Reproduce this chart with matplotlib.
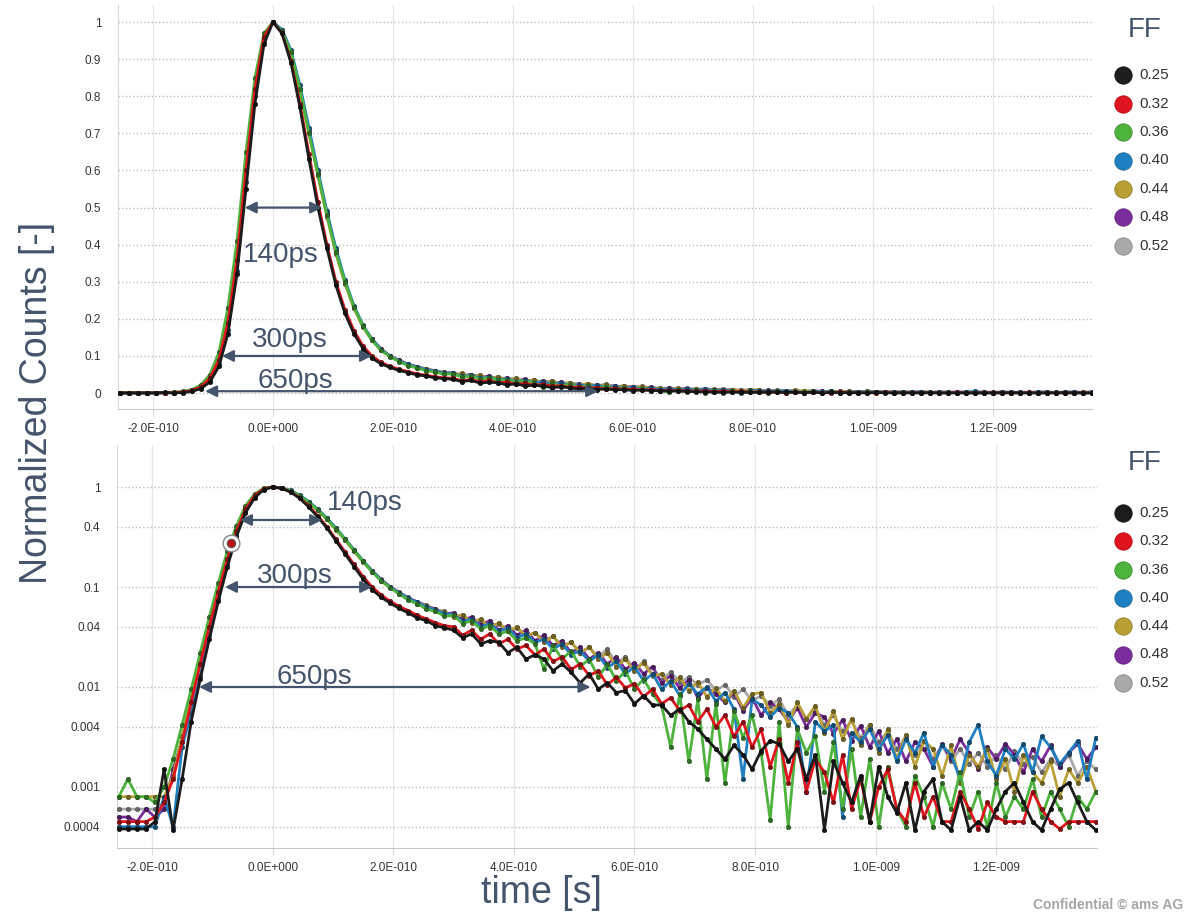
import numpy as np
import matplotlib
matplotlib.use("Agg")
import matplotlib.pyplot as plt
from matplotlib.lines import Line2D
from matplotlib.ticker import FixedLocator, FuncFormatter, NullLocator

plt.rcParams['font.family'] = ['Liberation Sans', 'DejaVu Sans']

# time bins in ps (15 ps steps, -255 ... 1365)
time_ps = np.arange(-255, 1366, 15)

ff_labels = ['0.25', '0.32', '0.36', '0.40', '0.44', '0.48', '0.52']
ff_colors = ['#1c1c1c', '#e0141e', '#4db33d', '#1f7fc0', '#b8a037', '#7b2d9b', '#a9a9a9']

# normalized counts, one list per fill factor
counts_025 = [
    0.00038, 0.00038, 0.00038, 0.00038, 0.00045, 0.0015, 0.00037, 0.0012, 0.0045, 0.012,
    0.03, 0.072, 0.16, 0.32, 0.55, 0.78, 0.94, 1.0, 0.97, 0.89,
    0.77, 0.63, 0.50, 0.39, 0.29, 0.215, 0.16, 0.12, 0.094, 0.079,
    0.069, 0.061, 0.055, 0.049, 0.046, 0.041, 0.039, 0.037, 0.031, 0.034,
    0.027, 0.029, 0.028, 0.022, 0.025, 0.019, 0.021, 0.019, 0.0145, 0.017,
    0.014, 0.011, 0.0135, 0.0095, 0.011, 0.0088, 0.0092, 0.0068, 0.0082, 0.0066,
    0.0066, 0.0052, 0.0060, 0.0045, 0.0038, 0.0030, 0.0024, 0.0019, 0.0026, 0.0021,
    0.0015, 0.0023, 0.0029, 0.0027, 0.0018, 0.0024, 0.0012, 0.0021, 0.00037, 0.0018,
    0.0011, 0.0007, 0.0013, 0.00045, 0.0016, 0.0008, 0.00055, 0.0011, 0.00037, 0.0009,
    0.0012, 0.00045, 0.00037, 0.0008, 0.00037, 0.00045, 0.00037, 0.0006, 0.0009, 0.0011,
    0.0007, 0.00045, 0.00037, 0.0006, 0.00095, 0.0011, 0.0007, 0.00045, 0.00037]
counts_032 = [
    0.00045, 0.00045, 0.00045, 0.00045, 0.0005, 0.0007, 0.0012, 0.0028, 0.007, 0.017,
    0.04, 0.09, 0.19, 0.36, 0.60, 0.82, 0.96, 1.0, 0.97, 0.895,
    0.78, 0.645, 0.515, 0.40, 0.30, 0.225, 0.168, 0.127, 0.10, 0.083,
    0.072, 0.064, 0.058, 0.052, 0.048, 0.044, 0.041, 0.040, 0.033, 0.037,
    0.030, 0.034, 0.027, 0.030, 0.024, 0.026, 0.021, 0.024, 0.018, 0.020,
    0.015, 0.017, 0.013, 0.0145, 0.0105, 0.0125, 0.0098, 0.0108, 0.0080, 0.0095,
    0.0068, 0.0078, 0.0058, 0.0066, 0.0045, 0.0060, 0.0040, 0.0052, 0.0032, 0.0045,
    0.0025, 0.0038, 0.0016, 0.0030, 0.0011, 0.0028, 0.0009, 0.0019, 0.0014, 0.0007,
    0.0021, 0.0006, 0.0012, 0.00045, 0.0010, 0.0015, 0.0006, 0.00045, 0.0011, 0.0005,
    0.0008, 0.00045, 0.00045, 0.0009, 0.0006, 0.00038, 0.0007, 0.0005, 0.00045, 0.00045,
    0.00045, 0.0009, 0.0006, 0.00045, 0.00038, 0.00045, 0.00045, 0.00045, 0.00045]
counts_036 = [
    0.0008, 0.0012, 0.0008, 0.0008, 0.0007, 0.001, 0.0019, 0.0042, 0.0095, 0.022,
    0.05, 0.11, 0.23, 0.41, 0.65, 0.85, 0.97, 1.0, 0.975, 0.92,
    0.82, 0.70, 0.59, 0.48, 0.38, 0.30, 0.232, 0.18, 0.142, 0.115,
    0.098, 0.085, 0.074, 0.068, 0.060, 0.057, 0.051, 0.052, 0.043, 0.046,
    0.038, 0.041, 0.034, 0.036, 0.029, 0.031, 0.027, 0.015, 0.026, 0.019,
    0.023, 0.016, 0.019, 0.0125, 0.017, 0.0115, 0.0145, 0.0095, 0.012, 0.0085,
    0.0065, 0.0025, 0.0085, 0.0018, 0.0075, 0.0012, 0.0068, 0.0011, 0.0058, 0.0031,
    0.0052, 0.0022, 0.00047, 0.0045, 0.0004, 0.0038, 0.0022, 0.0032, 0.0009, 0.0028,
    0.0006, 0.0024, 0.0005, 0.0019, 0.0004, 0.0016, 0.0006, 0.0004, 0.0013, 0.0008,
    0.0004, 0.0011, 0.0006, 0.0014, 0.0005, 0.0009, 0.0004, 0.0011, 0.0005, 0.0008,
    0.0006, 0.0012, 0.0005, 0.0009, 0.0006, 0.0004, 0.0008, 0.0006, 0.0009]
counts_040 = [
    0.0004, 0.0004, 0.0004, 0.0004, 0.0004, 0.0008, 0.0004, 0.0025, 0.0055, 0.013,
    0.033, 0.078, 0.17, 0.33, 0.57, 0.80, 0.95, 1.0, 0.98, 0.925,
    0.83, 0.715, 0.60, 0.49, 0.39, 0.305, 0.236, 0.183, 0.145, 0.117,
    0.099, 0.087, 0.077, 0.070, 0.063, 0.059, 0.054, 0.053, 0.045, 0.048,
    0.040, 0.043, 0.036, 0.039, 0.031, 0.034, 0.028, 0.030, 0.024, 0.027,
    0.021, 0.023, 0.018, 0.021, 0.0155, 0.018, 0.0135, 0.0160, 0.0115, 0.0135,
    0.0095, 0.0115, 0.0082, 0.0108, 0.0085, 0.0100, 0.0072, 0.0088, 0.0060, 0.0012,
    0.0075, 0.0066, 0.0050, 0.0062, 0.0055, 0.0040, 0.0009, 0.0045, 0.0036, 0.0042,
    0.0005, 0.0035, 0.0028, 0.0038, 0.0024, 0.0033, 0.0018, 0.0030, 0.0022, 0.0035,
    0.0016, 0.0026, 0.0021, 0.0012, 0.0028, 0.0042, 0.0018, 0.0013, 0.0024, 0.0019,
    0.0027, 0.0014, 0.0032, 0.0025, 0.0017, 0.0022, 0.0029, 0.0012, 0.0031]
counts_044 = [
    0.0008, 0.0008, 0.0008, 0.0008, 0.0008, 0.0008, 0.0013, 0.0032, 0.0078, 0.019,
    0.044, 0.10, 0.21, 0.38, 0.62, 0.83, 0.96, 1.0, 0.975, 0.915,
    0.815, 0.70, 0.585, 0.475, 0.375, 0.295, 0.228, 0.178, 0.142, 0.116,
    0.099, 0.086, 0.078, 0.068, 0.065, 0.057, 0.056, 0.050, 0.053, 0.044,
    0.048, 0.039, 0.044, 0.036, 0.040, 0.032, 0.035, 0.028, 0.032, 0.025,
    0.028, 0.022, 0.025, 0.019, 0.022, 0.016, 0.019, 0.0145, 0.0175, 0.013,
    0.0135, 0.0105, 0.0125, 0.0092, 0.0112, 0.0080, 0.0098, 0.0072, 0.0092, 0.0062,
    0.0085, 0.0088, 0.0055, 0.0068, 0.0042, 0.0070, 0.0048, 0.0065, 0.0035, 0.0058,
    0.0030, 0.0048, 0.0026, 0.0042, 0.0022, 0.0038, 0.0019, 0.0033, 0.0016, 0.0029,
    0.0024, 0.0013, 0.0026, 0.0011, 0.0021, 0.0016, 0.0024, 0.0012, 0.0019, 0.0009,
    0.0021, 0.0014, 0.0011, 0.0018, 0.0008, 0.0015, 0.0011, 0.0016, 0.0009]
counts_048 = [
    0.0005, 0.0005, 0.00045, 0.0006, 0.0005, 0.0006, 0.0015, 0.003, 0.0075, 0.018,
    0.042, 0.095, 0.20, 0.37, 0.61, 0.83, 0.96, 1.0, 0.978, 0.918,
    0.818, 0.705, 0.59, 0.48, 0.38, 0.298, 0.23, 0.18, 0.145, 0.118,
    0.10, 0.088, 0.077, 0.071, 0.064, 0.06, 0.054, 0.055, 0.047, 0.050,
    0.042, 0.046, 0.037, 0.041, 0.033, 0.037, 0.029, 0.033, 0.026, 0.029,
    0.022, 0.025, 0.019, 0.022, 0.017, 0.020, 0.015, 0.0175, 0.0135, 0.016,
    0.011, 0.0130, 0.0098, 0.0118, 0.0078, 0.0098, 0.0085, 0.0070, 0.0088, 0.0058,
    0.0078, 0.0052, 0.0070, 0.0060, 0.0045, 0.0062, 0.0040, 0.0055, 0.0050, 0.0034,
    0.0047, 0.0029, 0.0041, 0.0025, 0.0036, 0.0022, 0.0030, 0.0018, 0.0028, 0.0024,
    0.0016, 0.0027, 0.0019, 0.0030, 0.0022, 0.0015, 0.0025, 0.0019, 0.0027, 0.0021,
    0.0014, 0.0024, 0.0018, 0.0026, 0.0016, 0.0022, 0.0027, 0.0019, 0.0025]
counts_052 = [
    0.0006, 0.0006, 0.0006, 0.0006, 0.0006, 0.0007, 0.0014, 0.0031, 0.0076, 0.018,
    0.043, 0.097, 0.20, 0.37, 0.61, 0.83, 0.96, 1.0, 0.978, 0.92,
    0.82, 0.71, 0.595, 0.485, 0.385, 0.30, 0.233, 0.182, 0.146, 0.12,
    0.101, 0.089, 0.079, 0.071, 0.066, 0.06, 0.057, 0.052, 0.049, 0.045,
    0.047, 0.040, 0.043, 0.036, 0.039, 0.032, 0.035, 0.029, 0.032, 0.026,
    0.028, 0.022, 0.025, 0.020, 0.024, 0.017, 0.020, 0.015, 0.018, 0.0135,
    0.0118, 0.0142, 0.0112, 0.0125, 0.0105, 0.0118, 0.0092, 0.0105, 0.0080, 0.0095,
    0.0072, 0.0082, 0.0065, 0.0075, 0.0052, 0.0066, 0.0048, 0.0058, 0.0042, 0.0052,
    0.0036, 0.0046, 0.0031, 0.0042, 0.0028, 0.0036, 0.0024, 0.0032, 0.0021, 0.0029,
    0.0019, 0.0026, 0.0018, 0.0024, 0.0017, 0.0022, 0.0016, 0.0021, 0.0015, 0.0023,
    0.0017, 0.0020, 0.0014, 0.0019, 0.0016, 0.0021, 0.0013, 0.0018, 0.0015]

all_counts = [counts_025, counts_032, counts_036, counts_040,
              counts_044, counts_048, counts_052]

xticks = [-2e-10, 0, 2e-10, 4e-10, 6e-10, 8e-10, 1e-9, 1.2e-9]
lin_yticks = [0, 0.1, 0.2, 0.3, 0.4, 0.5, 0.6, 0.7, 0.8, 0.9, 1]
lin_ylabels = ['0', '0.1', '0.2', '0.3', '0.4', '0.5', '0.6', '0.7', '0.8', '0.9', '1']
log_yticks = [0.0004, 0.001, 0.004, 0.01, 0.04, 0.1, 0.4, 1]
log_ylabels = ['0.0004', '0.001', '0.004', '0.01', '0.04', '0.1', '0.4', '1']

ANNO = '#44546a'
TICKC = '#333333'


def sci_label(x, pos=None):
    """-2.0E-010 style tick labels"""
    if abs(x) < 1e-20:
        return '0.0E+000'
    e = int(np.floor(np.log10(abs(x)) + 1e-9))
    m = x / 10.0**e
    sign = '-' if e < 0 else '+'
    return '%.1fE%s%03d' % (m, sign, abs(e))


def darker(c, f=0.6):
    r, g, b = matplotlib.colors.to_rgb(c)
    return (r * f, g * f, b * f)


def style_axes(ax):
    for s in ['top', 'right']:
        ax.spines[s].set_visible(False)
    ax.spines['left'].set_color('#d8d8d8')
    ax.spines['bottom'].set_color('#c8c8c8')
    ax.xaxis.set_major_locator(FixedLocator(xticks))
    ax.xaxis.set_major_formatter(FuncFormatter(sci_label))
    ax.tick_params(axis='x', length=5, color='#d8d8d8', labelcolor=TICKC,
                   labelsize=8.5, pad=5)
    ax.tick_params(axis='y', length=0, labelcolor=TICKC, labelsize=8.5, pad=12)
    ax.grid(axis='x', ls='-', color='#e6e6e6', lw=0.9)
    ax.grid(axis='y', ls=':', color='#bdbdbd', lw=1.0)
    ax.set_axisbelow(True)


def draw_series(ax):
    t = time_ps * 1e-12
    for vals, col in reversed(list(zip(all_counts, ff_colors))):
        ax.plot(t, vals, color=col, lw=2.0, marker='o', ms=3.2,
                mfc=darker(col, 0.6), mec=darker(col, 0.45), mew=0.4, zorder=3)


def arrow(ax, x1, x2, y):
    ax.annotate('', xy=(x2, y), xytext=(x1, y),
                arrowprops=dict(arrowstyle='<|-|>', color=ANNO, lw=1.6,
                                mutation_scale=17, shrinkA=0, shrinkB=0),
                zorder=6)


def ff_legend(fig, title_y, first_y, step):
    W, H = 1194.0, 915.0
    fig.text(1145 / W, 1 - title_y / H, 'FF', fontsize=20, color=ANNO,
             ha='center', va='center')
    for k, (lab, col) in enumerate(zip(ff_labels, ff_colors)):
        y = 1 - (first_y + k * step) / H
        fig.add_artist(Line2D([1123 / W], [y], transform=fig.transFigure,
                              marker='o', ms=12.5, ls='', mfc=col,
                              mec=darker(col, 0.8), mew=0.6))
        fig.text(1139 / W, y, lab, fontsize=11, color=TICKC,
                 ha='left', va='center')


fig = plt.figure(figsize=(11.94, 9.15), dpi=100)

# ---- linear panel
ax1 = fig.add_axes([0.0988, 0.553, 0.8157, 0.4415])
draw_series(ax1)
ax1.set_xlim(-2.583e-10, 1.365e-9)
ax1.set_ylim(-0.043, 1.046)
style_axes(ax1)
ax1.yaxis.set_major_locator(FixedLocator(lin_yticks))
ax1.set_yticklabels(lin_ylabels)
arrow(ax1, -0.47e-10, 0.82e-10, 0.5)
arrow(ax1, -0.85e-10, 1.65e-10, 0.1)
arrow(ax1, -1.13e-10, 5.42e-10, 0.005)
ax1.text(0.13e-10, 0.372, '140ps', fontsize=20, color=ANNO, ha='center', va='center', zorder=7)
ax1.text(0.28e-10, 0.143, '300ps', fontsize=20, color=ANNO, ha='center', va='center', zorder=7)
ax1.text(0.37e-10, 0.032, '650ps', fontsize=20, color=ANNO, ha='center', va='center', zorder=7)

# ---- log panel
ax2 = fig.add_axes([0.098, 0.0732, 0.8208, 0.4404])
draw_series(ax2)
ax2.set_yscale('log')
ax2.set_xlim(-2.58e-10, 1.367e-9)
ax2.set_ylim(2.45e-4, 2.63)
style_axes(ax2)
ax2.yaxis.set_major_locator(FixedLocator(log_yticks))
ax2.yaxis.set_minor_locator(NullLocator())
ax2.set_yticklabels(log_ylabels)
arrow(ax2, -0.54e-10, 0.82e-10, 0.468)
arrow(ax2, -0.79e-10, 1.65e-10, 0.1)
arrow(ax2, -1.22e-10, 5.27e-10, 0.01)
ax2.text(1.53e-10, 0.69, '140ps', fontsize=20, color=ANNO, ha='center', va='center', zorder=7)
ax2.text(0.37e-10, 0.129, '300ps', fontsize=20, color=ANNO, ha='center', va='center', zorder=7)
ax2.text(0.70e-10, 0.0126, '650ps', fontsize=20, color=ANNO, ha='center', va='center', zorder=7)
# highlighted point on the rising edge
ax2.plot([-0.69e-10], [0.275], marker='o', ms=12, mfc='white', mec='#888888',
         mew=1.0, zorder=8)
ax2.plot([-0.69e-10], [0.275], marker='o', ms=6, mfc='#c01018', mec='#555555',
         mew=0.8, zorder=9)

ff_legend(fig, 30, 75, 28.5)
ff_legend(fig, 463, 513, 28.3)

fig.text(37 / 1194, 1 - 403 / 915, 'Normalized Counts [-]', rotation=90,
         fontsize=27, color=ANNO, ha='center', va='center')
fig.text(541 / 1194, 1 - 893 / 915, 'time [s]', fontsize=27, color=ANNO,
         ha='center', va='center')
fig.text(1183 / 1194, 1 - 905 / 915, 'Confidential \u00a9 ams AG', fontsize=10,
         color='#a6a6a6', fontweight='bold', ha='right', va='center')

fig.savefig('out.png', dpi=100, facecolor='white')
